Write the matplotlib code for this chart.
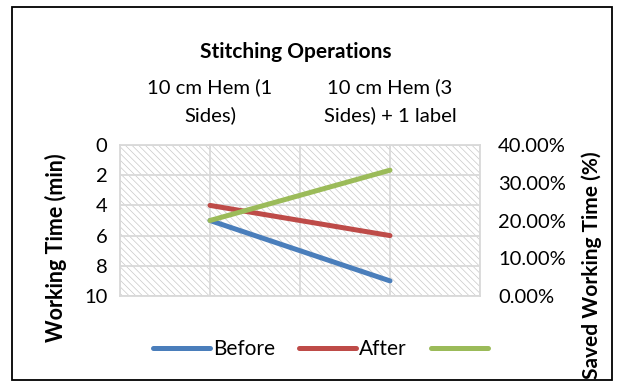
import numpy as np
import matplotlib.pyplot as plt
from matplotlib.patches import Rectangle

# categories and series
categories = ['10 cm Hem (1\nSides)', '10 cm Hem (3\nSides) + 1 label']
cat_pos = [1, 3]
before = [5, 9]       # min
after = [4, 6]        # min
saved = [20.0, 33.33]  # %

plt.rcParams['font.family'] = ['Lato', 'DejaVu Sans']
plt.rcParams['hatch.linewidth'] = 0.5

W, H = 621, 385
fig = plt.figure(figsize=(W / 100, H / 100), dpi=100)

# plot area in pixel coords
left, right, top, bottom = 120, 480, 145, 296
ax = fig.add_axes([left / W, 1 - bottom / H, (right - left) / W, (bottom - top) / H])

grid_c = '#d9d9d9'
ax.add_patch(Rectangle((0, 0), 1, 1, transform=ax.transAxes, facecolor='white',
                       edgecolor='#c8c8c8', hatch='\\\\\\\\\\', lw=0, zorder=0))

ax.plot(cat_pos, before, color='#4a7ebb', lw=3.6, solid_capstyle='round', zorder=3)
ax.plot(cat_pos, after, color='#be4b48', lw=3.6, solid_capstyle='round', zorder=3)

ax.set_xlim(0, 4)
ax.set_ylim(10, 0)
ax.set_xticks([0, 1, 2, 3, 4])
ax.set_xticklabels(['', categories[0], '', categories[1], ''], fontsize=14.6, linespacing=1.65)
ax.xaxis.tick_top()
ax.set_yticks([0, 2, 4, 6, 8, 10])
ax.tick_params(axis='x', length=0, pad=15, colors='#404040', labelcolor='black')
ax.tick_params(axis='y', length=0, pad=9, labelsize=14.5)
ax.grid(True, color=grid_c, lw=1.3)
ax.set_axisbelow(True)
for s in ax.spines.values():
    s.set_color(grid_c)
    s.set_linewidth(1.3)

# secondary axis for saved time
ax2 = ax.twinx()
ax2.plot(cat_pos, saved, color='#9bbb59', lw=3.6, solid_capstyle='round', zorder=3)
ax2.set_ylim(0, 40)
ax2.set_yticks([0, 10, 20, 30, 40])
ax2.set_yticklabels(['%.2f%%' % v for v in [0, 10, 20, 30, 40]])
ax2.tick_params(axis='y', length=0, pad=13, labelsize=14.5)
for s in ax2.spines.values():
    s.set_visible(False)

fig.text(296 / W, 1 - 52 / H, 'Stitching Operations', ha='center', va='center',
         fontsize=15, fontweight='bold')
fig.text(56 / W, 1 - 248 / H, 'Working Time (min)', ha='center', va='center',
         rotation=90, fontsize=15.5, fontweight='bold')
fig.text(592 / W, 1 - 265 / H, 'Saved Working Time (%)', ha='center', va='center',
         rotation=90, fontsize=15, fontweight='bold')

handles = [plt.Line2D([], [], color=c, lw=3.6, solid_capstyle='round')
           for c in ['#4a7ebb', '#be4b48', '#9bbb59']]
fig.legend(handles, ['Before', 'After', ''], loc='center', ncol=3,
           bbox_to_anchor=(322 / W, 1 - 349 / H), frameon=False, fontsize=15,
           handlelength=2.75, handletextpad=0.15, columnspacing=1.15)

# chart border
fig.add_artist(Rectangle((12 / W, 1 - 380 / H), 600 / W, 373 / H, transform=fig.transFigure,
                         fill=False, edgecolor='black', lw=1.3))

fig.savefig('out.png', dpi=100)
